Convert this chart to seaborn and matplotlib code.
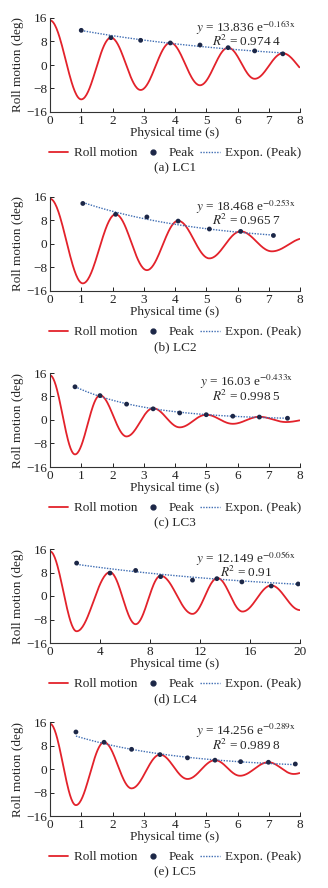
import numpy as np
import pandas as pd
import matplotlib
matplotlib.use("Agg")
import matplotlib.pyplot as plt
import seaborn as sns
from matplotlib.lines import Line2D
from matplotlib.legend_handler import HandlerLine2D

# Extrema of the roll curve (time s, angle deg)
lc1_ext_t = [0, 1.0, 1.95, 2.9, 3.85, 4.8, 5.7, 6.55, 7.45, 8.35]
lc1_ext_v = [15.2, -11.7, 9.3, -8.5, 7.6, -6.9, 5.9, -4.7, 4.0, -3.5]
lc2_ext_t = [0, 1.05, 2.1, 3.1, 4.1, 5.1, 6.1, 7.1, 8.15]
lc2_ext_v = [15.4, -13.4, 10.1, -8.9, 7.9, -4.9, 4.3, -2.5, 2.0]
lc3_ext_t = [0, 0.8, 1.6, 2.45, 3.3, 4.15, 5.0, 5.85, 6.7, 7.55, 8.4]
lc3_ext_v = [15.2, -11.7, 8.4, -5.6, 4.0, -2.5, 1.8, -1.3, 1.1, -0.7, 0.4]
lc4_ext_t = [0, 2.13, 4.8, 6.85, 8.85, 11.4, 13.4, 15.4, 17.7, 20.0]
lc4_ext_v = [15.2, -12.0, 8.1, -9.6, 6.9, -6.1, 6.1, -5.3, 3.6, -4.8]
lc5_ext_t = [0, 0.83, 1.73, 2.61, 3.52, 4.4, 5.28, 6.08, 6.99, 7.8, 8.7]
lc5_ext_v = [15.4, -12.3, 9.1, -6.6, 4.9, -3.4, 3.0, -2.3, 2.3, -1.7, 1.5]

# Peak markers (absolute amplitudes)
lc1_pk_t = [1.0, 1.95, 2.9, 3.85, 4.8, 5.7, 6.55, 7.45]
lc1_pk_v = [11.8, 9.3, 8.4, 7.5, 6.8, 5.9, 4.8, 3.8]
lc2_pk_t = [1.05, 2.1, 3.1, 4.1, 5.1, 6.1, 7.15]
lc2_pk_v = [13.8, 10.1, 9.2, 7.8, 5.1, 4.3, 2.9]
lc3_pk_t = [0.8, 1.6, 2.45, 3.3, 4.15, 5.0, 5.85, 6.7, 7.6]
lc3_pk_v = [11.3, 8.3, 5.4, 3.8, 2.4, 1.8, 1.3, 1.0, 0.6]
lc4_pk_t = [2.13, 4.8, 6.85, 8.85, 11.4, 13.35, 15.35, 17.7, 19.85]
lc4_pk_v = [11.2, 7.8, 8.7, 6.6, 5.4, 5.9, 4.8, 3.4, 4.1]
lc5_pk_t = [0.83, 1.73, 2.61, 3.52, 4.4, 5.28, 6.1, 6.99, 7.85]
lc5_pk_v = [12.6, 9.1, 6.7, 4.9, 3.8, 3.0, 2.5, 2.3, 1.7]

# Trendline coefficients shown on the chart: y = a * exp(b x)
fit_a = [13.836, 18.468, 16.03, 12.149, 14.256]
fit_b = [-0.163, -0.253, -0.433, -0.056, -0.289]
fit_txt_a = ["13.836", "18.468", "16.03", "12.149", "14.256"]
fit_txt_b = ["0.163", "0.253", "0.433", "0.056", "0.289"]
r2_txt = ["0.974 4", "0.965 7", "0.998 5", "0.91", "0.989 8"]

captions = ["(a) LC1", "(b) LC2", "(c) LC3", "(d) LC4", "(e) LC5"]
x_max = [8, 8, 8, 20, 8]
x_ticks = [list(range(0, 9)), list(range(0, 9)), list(range(0, 9)),
           list(range(0, 21, 4)), list(range(0, 9))]

ext_t = [lc1_ext_t, lc2_ext_t, lc3_ext_t, lc4_ext_t, lc5_ext_t]
ext_v = [lc1_ext_v, lc2_ext_v, lc3_ext_v, lc4_ext_v, lc5_ext_v]
pk_t = [lc1_pk_t, lc2_pk_t, lc3_pk_t, lc4_pk_t, lc5_pk_t]
pk_v = [lc1_pk_v, lc2_pk_v, lc3_pk_v, lc4_pk_v, lc5_pk_v]

RED = "#e3222b"
NAVY = "#1c2747"
BLUE = "#3f6db3"
FS = 9.5


def smooth_curve(ts, vs, xmax):
    # half-cosine shape between consecutive extrema
    xs, ys = [], []
    for i in range(len(ts) - 1):
        s = np.linspace(0, 1, 40)
        xs.append(ts[i] + (ts[i + 1] - ts[i]) * s)
        ys.append(vs[i] + (vs[i + 1] - vs[i]) * (1 - np.cos(np.pi * s)) / 2)
    df = pd.DataFrame({"t": np.concatenate(xs), "y": np.concatenate(ys)})
    return df[df["t"] <= xmax]


class RightMarker(HandlerLine2D):
    # put the legend marker at the right end of its handle box
    def get_xdata(self, legend, xdescent, ydescent, width, height, fontsize):
        xdata = [-xdescent, -xdescent + width]
        return xdata, [-xdescent + width - 0.35 * fontsize]


sns.set_theme(style="ticks")
plt.rcParams["font.family"] = ["Liberation Serif", "DejaVu Serif"]
plt.rcParams["mathtext.fontset"] = "stix"
plt.rcParams["axes.unicode_minus"] = True

W, H = 328, 888
fig = plt.figure(figsize=(W / 100, H / 100), dpi=100)

tops = [18, 197, 373, 549, 722]
ax_h = 94
for i in range(5):
    ax = fig.add_axes([50 / W, 1 - (tops[i] + ax_h) / H, 250 / W, ax_h / H])

    curve = smooth_curve(ext_t[i], ext_v[i], x_max[i])
    sns.lineplot(data=curve, x="t", y="y", ax=ax, color=RED, lw=1.3,
                 sort=False, estimator=None)

    fx = np.linspace(pk_t[i][0], pk_t[i][-1], 60)
    fit = pd.DataFrame({"t": fx, "y": fit_a[i] * np.exp(fit_b[i] * fx)})
    sns.lineplot(data=fit, x="t", y="y", ax=ax, color=BLUE, lw=1.0,
                 linestyle=(0, (1, 1)), estimator=None)

    peaks = pd.DataFrame({"t": pk_t[i], "y": pk_v[i]})
    sns.scatterplot(data=peaks, x="t", y="y", ax=ax, color=NAVY, s=12,
                    edgecolor="none", zorder=5)

    ax.set_xlim(0, x_max[i])
    ax.set_ylim(-16, 16)
    ax.set_xticks(x_ticks[i])
    ax.set_yticks([-16, -8, 0, 8, 16])
    ax.tick_params(direction="in", length=3, width=0.7, labelsize=FS, pad=2,
                   colors="#222222")
    for sp in ["left", "bottom"]:
        ax.spines[sp].set_linewidth(0.8)
        ax.spines[sp].set_color("#333333")
    sns.despine(ax=ax)
    ax.set_xlabel("Physical time (s)", fontsize=FS, labelpad=0.5)
    ax.set_ylabel("Roll motion (deg)", fontsize=FS, labelpad=2)

    eq = (r"$y$ = " + fit_txt_a[i] + r" e$^{-" + fit_txt_b[i] + r"\mathrm{x}}$"
          + "\n" + r"$R$$^2$ = " + r2_txt[i])
    ax.text(0.785, 0.835, eq, transform=ax.transAxes, ha="center",
            va="center", multialignment="center", fontsize=FS,
            linespacing=0.8)

    handles = [
        Line2D([], [], color=RED, lw=1.3),
        Line2D([], [], color=NAVY, marker="o", ms=3.5, lw=0),
        Line2D([], [], color=BLUE, lw=1.0, linestyle=(0, (1, 1))),
    ]
    ax.legend(handles, ["Roll motion", "Peak", "Expon. (Peak)"],
              loc="center", bbox_to_anchor=(0.5, -0.44), ncol=3,
              frameon=False, fontsize=FS, handlelength=1.5,
              handletextpad=0.4, columnspacing=0.45, borderpad=0,
              handler_map={handles[1]: RightMarker()})
    ax.text(0.5, -0.6, captions[i], transform=ax.transAxes,
            ha="center", va="center", fontsize=FS)

fig.savefig("out.png", dpi=100)
